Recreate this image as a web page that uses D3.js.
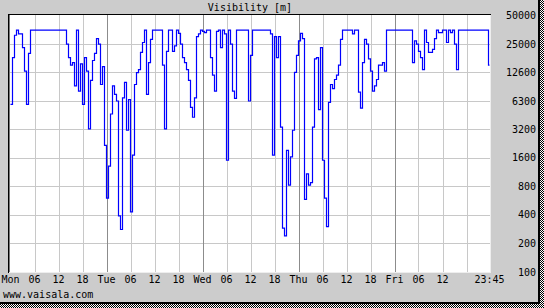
<!DOCTYPE html>
<html>
<head>
<meta charset="utf-8">
<script src="https://cdn.jsdelivr.net/npm/d3@7"></script>
<style>
  body { margin: 0; background: #fff; }
  svg { display: block; }
  text { font-family: "DejaVu Sans Mono", monospace; font-size: 10px; fill: #000; }
</style>
</head>
<body>
<svg id="svg" width="544" height="308"></svg>
<script>
// visibility [m], half-hour readings from Mon 00:00
var vis = [
  5800, 18000, 31000, 35000, 32000, 32000, 23000, 13000, 5800, 20000,
  35000, 35000, 35000, 35000, 35000, 35000, 35000, 35000, 35000, 35000,
  35000, 35000, 35000, 35000, 35000, 35000, 35000, 35000, 25000, 18000,
  15000, 16000, 9100, 35000, 8000, 15500, 5800, 18000, 13000, 3200,
  10400, 16800, 20000, 28500, 25000, 9400, 14500, 2150, 600, 1300,
  4600, 9100, 7400, 6300, 390, 280, 6800, 9900, 3100, 6500,
  430, 1700, 9400, 12500, 13500, 20500, 26000, 35000, 7400, 16000,
  28000, 35000, 35000, 35000, 35000, 35000, 15000, 3200, 21000, 35000,
  35000, 21000, 24000, 35000, 32500, 25000, 18000, 16000, 13500, 10400,
  5400, 4250, 6800, 30000, 32000, 35000, 34000, 33000, 35000, 35000,
  18000, 11800, 8000, 34000, 35000, 23000, 35000, 32000, 1500, 35000,
  25000, 8000, 6700, 35000, 35000, 35000, 35000, 35000, 35000, 6300,
  19000, 35000, 35000, 35000, 35000, 35000, 35000, 35000, 35000, 35000,
  32000, 1700, 30000, 18000, 30000, 3350, 290, 240, 1900, 820,
  1630, 3100, 12600, 19000, 27000, 32500, 28500, 580, 1080, 820,
  870, 3350, 17500, 18000, 5100, 23000, 1500, 600, 300, 6100,
  9400, 8500, 10600, 11800, 15000, 28000, 35000, 35000, 35000, 35000,
  35000, 32000, 35000, 35000, 7800, 5300, 16000, 28000, 25000, 17500,
  13000, 8000, 9100, 10600, 15000, 15000, 16000, 13000, 35000, 35000,
  35000, 35000, 35000, 35000, 35000, 35000, 35000, 35000, 35000, 35000,
  35000, 16000, 27000, 25000, 21000, 18000, 13500, 35000, 26000, 20500,
  20500, 22000, 28500, 35000, 33000, 33000, 35000, 35000, 26000, 35000,
  33000, 35000, 25000, 13500, 35000, 35000, 35000, 35000, 35000, 35000,
  35000, 35000, 35000, 35000, 35000, 35000, 35000, 35000, 35000, 15000
];

var yTicks = [50000, 25000, 12600, 6300, 3200, 1600, 800, 400, 200, 100];
var xTickLabels = ["Mon", "06", "12", "18", "Tue", "06", "12", "18", "Wed", "06", "12", "18",
                   "Thu", "06", "12", "18", "Fri", "06", "12"];
var endLabel = "23:45";
var endHour = 119.75;

var svg = d3.select("#svg");

var x = d3.scaleLinear().domain([0, endHour]).range([10.5, 489.5]);
var y = d3.scaleLog().domain([100, 50000]).range([272, 15.5]);

// dithered shadow pattern
var defs = svg.append("defs");
var pat = defs.append("pattern")
    .attr("id", "dither")
    .attr("width", 2).attr("height", 2)
    .attr("patternUnits", "userSpaceOnUse");
pat.append("rect").attr("width", 2).attr("height", 2).attr("fill", "#fff");
pat.append("rect").attr("width", 1).attr("height", 1).attr("fill", "#000");
pat.append("rect").attr("x", 1).attr("y", 1).attr("width", 1).attr("height", 1).attr("fill", "#000");

defs.append("clipPath").attr("id", "clip")
    .append("rect")
    .attr("x", 10).attr("y", 15)
    .attr("width", 480).attr("height", 257);

svg.append("rect").attr("x", 540).attr("y", 0).attr("width", 4).attr("height", 308).attr("fill", "url(#dither)");
svg.append("rect").attr("x", 0).attr("y", 304).attr("width", 544).attr("height", 4).attr("fill", "url(#dither)");
svg.append("rect").attr("x", 0).attr("y", 0).attr("width", 540).attr("height", 304).attr("fill", "#000");
svg.append("rect").attr("x", 0).attr("y", 0).attr("width", 538).attr("height", 302).attr("fill", "#cccccc");

// plot area
svg.append("rect")
    .attr("x", 10).attr("y", 15)
    .attr("width", 481).attr("height", 257)
    .attr("fill", "#fff");

var grid = svg.append("g").attr("shape-rendering", "crispEdges");

grid.selectAll("line.h")
    .data(yTicks.slice(1, -1))
    .enter()
    .append("line")
    .attr("x1", 10).attr("x2", 490)
    .attr("y1", d => Math.round(y(d)) + 0.5)
    .attr("y2", d => Math.round(y(d)) + 0.5)
    .attr("stroke", "#c8c8c8");

var hours = d3.range(6, endHour, 6);
grid.selectAll("line.v")
    .data(hours)
    .enter()
    .append("line")
    .attr("x1", d => Math.round(x(d)) + 0.5)
    .attr("x2", d => Math.round(x(d)) + 0.5)
    .attr("y1", 15).attr("y2", 272)
    .attr("stroke", d => d % 24 === 0 ? "#8c8c8c" : "#c8c8c8");

// inset frame
grid.append("line").attr("x1", 8).attr("x2", 491).attr("y1", 14.5).attr("y2", 14.5).attr("stroke", "#000");
grid.append("line").attr("x1", 8.5).attr("x2", 8.5).attr("y1", 14).attr("y2", 273).attr("stroke", "#000");
grid.append("line").attr("x1", 9.5).attr("x2", 9.5).attr("y1", 15).attr("y2", 272).attr("stroke", "#777");
grid.append("line").attr("x1", 490.5).attr("x2", 490.5).attr("y1", 15).attr("y2", 273).attr("stroke", "#eee");
grid.append("line").attr("x1", 9).attr("x2", 491).attr("y1", 272.5).attr("y2", 272.5).attr("stroke", "#eee");

// series
var points = vis.map((v, i) => ({ t: i * 0.5, v: v }));
points.push({ t: endHour, v: vis[vis.length - 1] });

var line = d3.line()
    .x(d => x(d.t))
    .y(d => y(d.v))
    .curve(d3.curveStepAfter);

svg.append("path")
    .datum(points)
    .attr("clip-path", "url(#clip)")
    .attr("fill", "none")
    .attr("stroke", "#0000ff")
    .attr("stroke-width", 1.2)
    .attr("d", line);

// title
svg.append("text")
    .attr("x", 250).attr("y", 10.5)
    .attr("text-anchor", "middle")
    .text("Visibility [m]");

// y labels on the right
svg.selectAll("text.ylab")
    .data(yTicks)
    .enter()
    .append("text")
    .attr("class", "ylab")
    .attr("x", 536)
    .attr("y", d => y(d) + 3.7)
    .attr("text-anchor", "end")
    .text(d => d);

// x labels
svg.selectAll("text.xlab")
    .data(xTickLabels)
    .enter()
    .append("text")
    .attr("class", "xlab")
    .attr("x", (d, i) => x(i * 6))
    .attr("y", 283)
    .attr("text-anchor", "middle")
    .text(d => d);

svg.append("text")
    .attr("x", x(endHour)).attr("y", 283)
    .attr("text-anchor", "middle")
    .text(endLabel);

svg.append("text")
    .attr("x", 3).attr("y", 298)
    .text("www.vaisala.com");
</script>
</body>
</html>
